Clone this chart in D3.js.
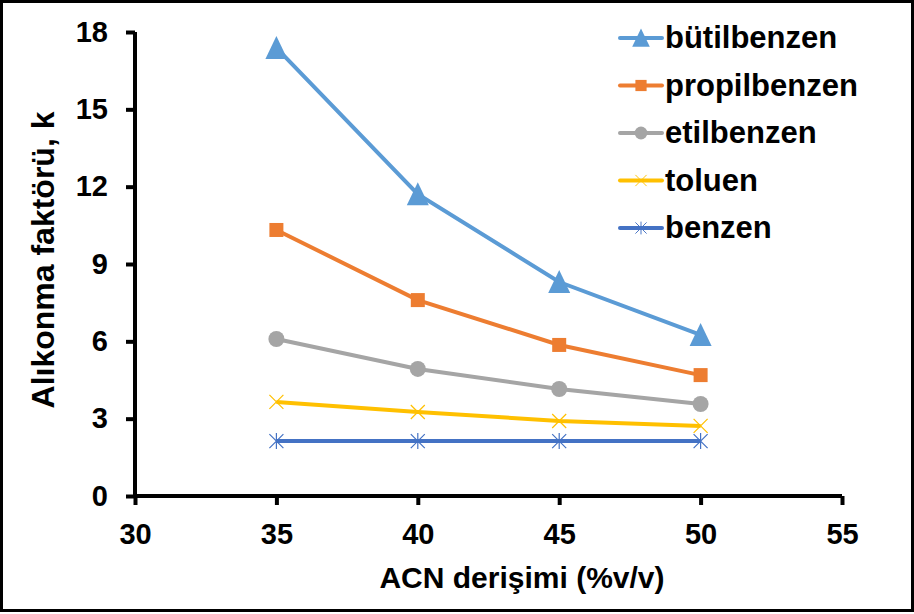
<!DOCTYPE html>
<html>
<head>
<meta charset="utf-8">
<script src="https://cdn.jsdelivr.net/npm/d3@7"></script>
<style>
  body { margin: 0; background: #fff; }
  text { font-family: Arial, "Liberation Sans", sans-serif; font-weight: bold; }
</style>
</head>
<body>
<svg id="chart"></svg>
<script>
// data
var xValues = [35, 40, 45, 50];
var butilbenzen = [17.38, 11.71, 8.30, 6.25];
var propilbenzen = [10.32, 7.60, 5.86, 4.69];
var etilbenzen = [6.09, 4.93, 4.15, 3.57];
var toluen = [3.65, 3.26, 2.91, 2.72];
var benzen = [2.13, 2.13, 2.13, 2.13];
var seriesNames = ["bütilbenzen", "propilbenzen", "etilbenzen", "toluen", "benzen"];
var xTicks = [30, 35, 40, 45, 50, 55];
var yTicks = [0, 3, 6, 9, 12, 15, 18];

var series = [
    { name: seriesNames[0], values: butilbenzen, color: "#5B9BD5", marker: "triangle" },
    { name: seriesNames[1], values: propilbenzen, color: "#ED7D31", marker: "square" },
    { name: seriesNames[2], values: etilbenzen, color: "#A5A5A5", marker: "circle" },
    { name: seriesNames[3], values: toluen, color: "#FFC000", marker: "x" },
    { name: seriesNames[4], values: benzen, color: "#4472C4", marker: "star" }
];

var W = 914, H = 614;
var margin = { top: 32, right: 72, bottom: 118, left: 135 };

var svg = d3.select("#chart").attr("width", W).attr("height", H);

// outer frame
svg.append("rect")
    .attr("x", 1.5).attr("y", 1.5)
    .attr("width", W - 3).attr("height", H - 5)
    .attr("fill", "none").attr("stroke", "#000").attr("stroke-width", 3);

var x = d3.scaleLinear().domain([30, 55]).range([margin.left, W - margin.right]);
var y = d3.scaleLinear().domain([0, 18]).range([H - margin.bottom, margin.top]);

// x axis
var xAxis = svg.append("g")
    .attr("transform", "translate(0," + y(0) + ")")
    .call(d3.axisBottom(x).tickValues(xTicks).tickSize(9).tickPadding(18).tickFormat(d3.format("d")));
xAxis.select(".domain").attr("stroke-width", 4).attr("d", "M" + x(30) + ",0H" + x(55));
xAxis.selectAll(".tick line").attr("stroke-width", 4);
xAxis.selectAll(".tick text").style("font-size", "29px").attr("fill", "#000");

// y axis
var yAxis = svg.append("g")
    .attr("transform", "translate(" + x(30) + ",0)")
    .call(d3.axisLeft(y).tickValues(yTicks).tickSize(9).tickPadding(18));
yAxis.select(".domain").attr("stroke-width", 4).attr("d", "M0," + y(0) + "V" + y(18));
yAxis.selectAll(".tick line").attr("stroke-width", 4);
yAxis.selectAll(".tick text").style("font-size", "29px").attr("fill", "#000");

// axis titles
svg.append("text")
    .attr("x", 522).attr("y", 588)
    .attr("text-anchor", "middle")
    .style("font-size", "30px")
    .text("ACN derişimi (%v/v)");

svg.append("text")
    .attr("transform", "translate(54," + 260 + ") rotate(-90)")
    .attr("text-anchor", "middle")
    .style("font-size", "32px")
    .text("Alıkonma faktörü, k");

function drawMarker(g, type, color) {
    if (type == "triangle") {
        g.append("path").attr("d", "M0,-12L11,11L-11,11Z").attr("fill", color);
    } else if (type == "square") {
        g.append("rect").attr("x", -7).attr("y", -7).attr("width", 14).attr("height", 14).attr("fill", color);
    } else if (type == "circle") {
        g.append("circle").attr("r", 8).attr("fill", color);
    } else if (type == "x") {
        g.append("path").attr("d", "M-7,-7L7,7M-7,7L7,-7").attr("stroke", color).attr("stroke-width", 1.2).attr("fill", "none");
    } else if (type == "star") {
        g.append("path").attr("d", "M-7,-7L7,7M-7,7L7,-7M0,-8V8").attr("stroke", color).attr("stroke-width", 1.2).attr("fill", "none");
    }
}

var line = d3.line()
    .x(function(d, i) { return x(xValues[i]); })
    .y(function(d) { return y(d); });

// draw bottom series first so bütilbenzen sits on top
series.slice().reverse().forEach(function(s) {
    svg.append("path")
        .datum(s.values)
        .attr("d", line)
        .attr("fill", "none")
        .attr("stroke", s.color)
        .attr("stroke-width", 4);
    s.values.forEach(function(v, i) {
        var g = svg.append("g").attr("transform", "translate(" + x(xValues[i]) + "," + y(v) + ")");
        drawMarker(g, s.marker, s.color);
    });
});

// legend
var legend = svg.selectAll(".legend")
    .data(series)
    .enter().append("g")
    .attr("class", "legend")
    .attr("transform", function(d, i) { return "translate(620," + (38 + i * 47.5) + ")"; });

legend.append("line")
    .attr("x1", 0).attr("x2", 42)
    .attr("stroke", function(d) { return d.color; })
    .attr("stroke-width", 4)
    .attr("stroke-linecap", "round");

legend.each(function(d) {
    var g = d3.select(this).append("g").attr("transform", "translate(21,0) scale(0.8)");
    drawMarker(g, d.marker, d.color);
});

legend.append("text")
    .attr("x", 45).attr("y", 10)
    .style("font-size", "31px")
    .text(function(d) { return d.name; });
</script>
</body>
</html>
